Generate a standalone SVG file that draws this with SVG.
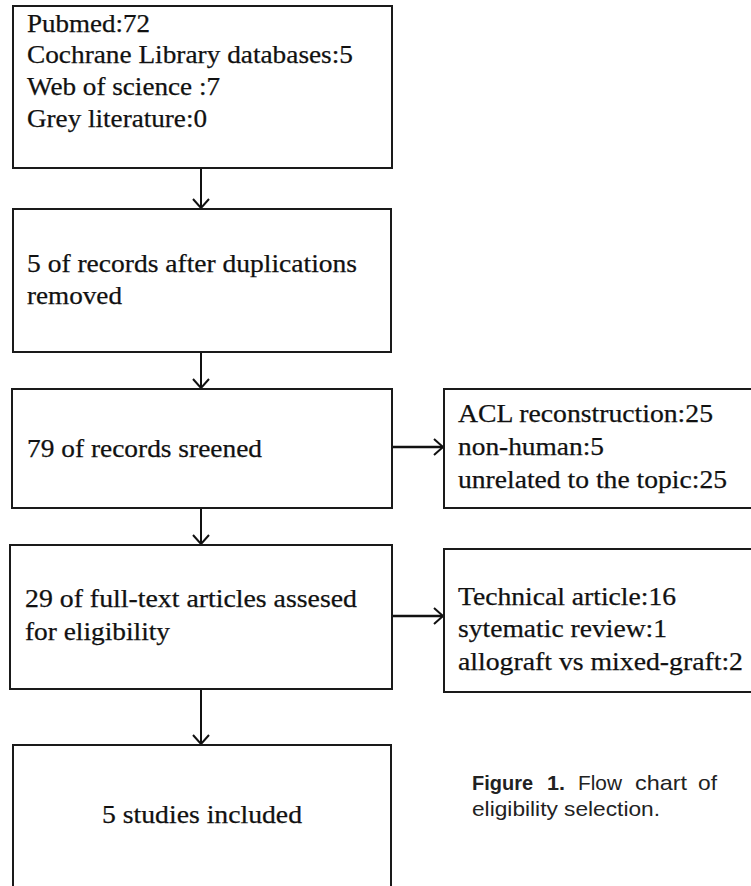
<svg xmlns="http://www.w3.org/2000/svg" width="751" height="886" viewBox="0 0 751 886">
<style>
.box{fill:#fff;stroke:#1a1a1a;stroke-width:2}
.t{font-family:'Liberation Serif','Times New Roman',Times,serif;font-size:25px;fill:#111;stroke:#111;stroke-width:0.25}
.cap{font-family:'Liberation Sans',Arial,Helvetica,sans-serif;font-size:21px;fill:#222}
.b{font-weight:bold}
.conn{stroke:#111;stroke-width:2;fill:none}
</style>
<defs>
<marker id="arr" viewBox="-11 -10 13 20" refX="0" refY="0" markerWidth="13" markerHeight="20" markerUnits="userSpaceOnUse" orient="auto">
<path d="M-9,-8 L0,0 L-9,8" fill="none" stroke="#111" stroke-width="2"/>
</marker>
</defs>
<rect width="751" height="886" fill="#fff"/>
<g id="connectors">
<line class="conn" x1="201" y1="168" x2="201" y2="208" marker-end="url(#arr)"/>
<line class="conn" x1="201" y1="352" x2="201" y2="388" marker-end="url(#arr)"/>
<line class="conn" x1="201" y1="508" x2="201" y2="544" marker-end="url(#arr)"/>
<line class="conn" x1="201" y1="689" x2="201" y2="744" marker-end="url(#arr)"/>
<line class="conn" x1="392" y1="447" x2="443" y2="447" marker-end="url(#arr)" style="stroke-width:2.5"/>
<line class="conn" x1="392" y1="616" x2="443" y2="616" marker-end="url(#arr)" style="stroke-width:2.5"/>
</g>
<g id="sources">
<rect class="box" x="13" y="6" width="379" height="162"/>
<text class="t" x="27" y="32" textLength="123" lengthAdjust="spacingAndGlyphs">Pubmed:72</text>
<text class="t" x="27" y="63" textLength="326" lengthAdjust="spacingAndGlyphs">Cochrane Library databases:5</text>
<text class="t" x="27" y="95" textLength="193" lengthAdjust="spacingAndGlyphs">Web of science :7</text>
<text class="t" x="27" y="127" textLength="180" lengthAdjust="spacingAndGlyphs">Grey literature:0</text>
</g>
<g id="dedup">
<rect class="box" x="13" y="209" width="378" height="143"/>
<text class="t" x="27" y="272" textLength="330" lengthAdjust="spacingAndGlyphs">5 of records after duplications</text>
<text class="t" x="27" y="304" textLength="95" lengthAdjust="spacingAndGlyphs">removed</text>
</g>
<g id="screened">
<rect class="box" x="12" y="389" width="380" height="119"/>
<text class="t" x="27" y="457" textLength="235" lengthAdjust="spacingAndGlyphs">79 of records sreened</text>
</g>
<g id="excluded1">
<rect class="box" x="444" y="389" width="330" height="119"/>
<text class="t" x="458" y="422" textLength="255" lengthAdjust="spacingAndGlyphs">ACL reconstruction:25</text>
<text class="t" x="458" y="455" textLength="146" lengthAdjust="spacingAndGlyphs">non-human:5</text>
<text class="t" x="458" y="488" textLength="269" lengthAdjust="spacingAndGlyphs">unrelated to the topic:25</text>
</g>
<g id="fulltext">
<rect class="box" x="10" y="545" width="382" height="144"/>
<text class="t" x="25" y="607" textLength="332" lengthAdjust="spacingAndGlyphs">29 of full-text articles assesed</text>
<text class="t" x="25" y="640" textLength="145" lengthAdjust="spacingAndGlyphs">for eligibility</text>
</g>
<g id="excluded2">
<rect class="box" x="444" y="549" width="330" height="143"/>
<text class="t" x="458" y="605" textLength="218" lengthAdjust="spacingAndGlyphs">Technical article:16</text>
<text class="t" x="458" y="637" textLength="209" lengthAdjust="spacingAndGlyphs">sytematic review:1</text>
<text class="t" x="458" y="670" textLength="285" lengthAdjust="spacingAndGlyphs">allograft vs mixed-graft:2</text>
</g>
<g id="included">
<rect class="box" x="13" y="745" width="378" height="160"/>
<text class="t" x="102" y="823" textLength="200" lengthAdjust="spacingAndGlyphs">5 studies included</text>
</g>
<g id="caption">
<text class="cap b" x="472" y="790" textLength="61" lengthAdjust="spacingAndGlyphs">Figure</text>
<text class="cap b" x="547" y="790" textLength="18" lengthAdjust="spacingAndGlyphs">1.</text>
<text class="cap" x="578" y="790" textLength="44" lengthAdjust="spacingAndGlyphs">Flow</text>
<text class="cap" x="635" y="790" textLength="52" lengthAdjust="spacingAndGlyphs">chart</text>
<text class="cap" x="698" y="790" textLength="19" lengthAdjust="spacingAndGlyphs">of</text>
<text class="cap" x="472" y="816" textLength="188" lengthAdjust="spacingAndGlyphs">eligibility selection.</text>
</g>
</svg>
